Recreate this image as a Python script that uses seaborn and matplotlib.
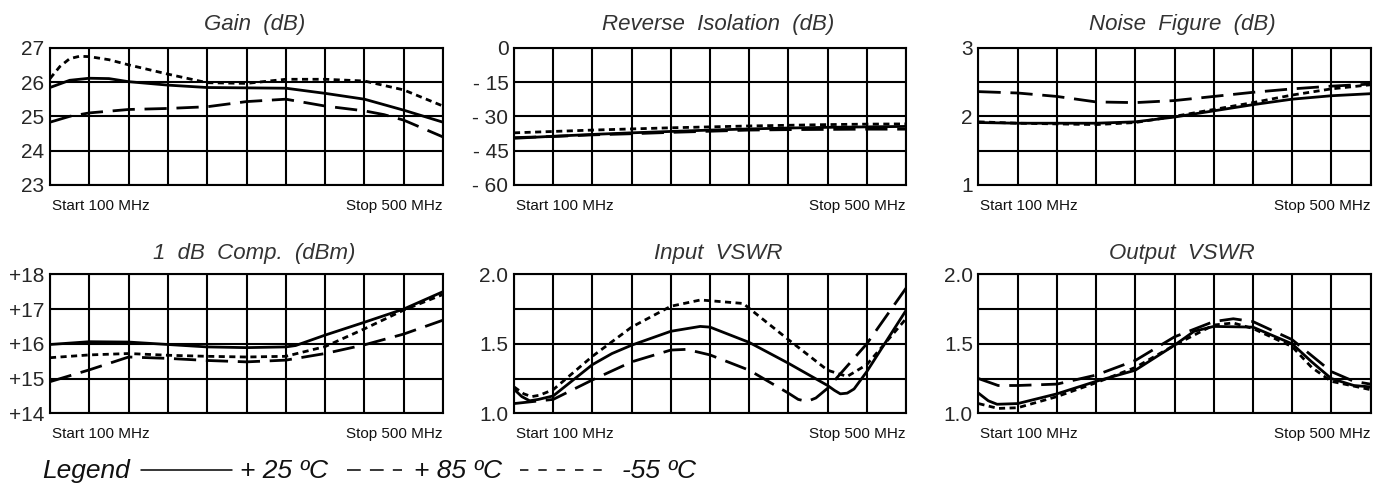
import numpy as np
import pandas as pd
import matplotlib
matplotlib.use("Agg")
import matplotlib.pyplot as plt
from matplotlib.lines import Line2D
import seaborn as sns

sns.set_style("white")
plt.rcParams['font.family'] = ['Liberation Sans', 'DejaVu Sans']

temps = ['+25', '+85', '-55']
legend_labels = ['+ 25 ºC', '+ 85 ºC', '-55 ºC']

# ---------------- Gain (dB) ----------------
gain_f_25 = [100, 120, 140, 160, 180, 220, 260, 300, 340, 380, 420, 460, 500]
gain_v_25 = [25.84, 26.05, 26.11, 26.1, 26.01, 25.91, 25.84, 25.83, 25.82, 25.67, 25.5, 25.18, 24.83]
gain_f_85 = [100, 120, 140, 180, 220, 260, 300, 340, 380, 420, 440, 460, 500]
gain_v_85 = [24.83, 25.0, 25.1, 25.2, 25.23, 25.28, 25.43, 25.5, 25.3, 25.16, 25.05, 24.89, 24.4]
gain_f_55 = [100, 110, 120, 130, 140, 160, 180, 220, 260, 300, 340, 380, 420, 460, 500]
gain_v_55 = [26.1, 26.45, 26.68, 26.75, 26.74, 26.65, 26.5, 26.23, 25.98, 25.96, 26.08, 26.08, 26.03, 25.77, 25.3]

# ---------------- Reverse Isolation (dB) ----------------
iso_f = [100, 140, 180, 220, 260, 300, 340, 380, 420, 460, 500]
iso_v_25 = [-39.6, -38.7, -37.9, -37.2, -36.6, -36.0, -35.5, -35.1, -34.8, -34.6, -34.4]
iso_v_85 = [-39.3, -38.8, -38.1, -37.6, -37.0, -36.5, -36.0, -35.8, -35.7, -35.6, -35.6]
iso_v_55 = [-37.2, -36.6, -36.0, -35.5, -35.0, -34.6, -34.2, -33.9, -33.6, -33.4, -33.3]

# ---------------- Noise Figure (dB) ----------------
nf_f = [100, 140, 180, 220, 260, 300, 340, 380, 420, 460, 500]
nf_v_25 = [1.91, 1.9, 1.9, 1.9, 1.92, 1.99, 2.08, 2.17, 2.25, 2.3, 2.33]
nf_v_85 = [2.36, 2.34, 2.29, 2.21, 2.2, 2.23, 2.29, 2.35, 2.4, 2.44, 2.47]
nf_v_55 = [1.92, 1.9, 1.89, 1.88, 1.91, 2.0, 2.1, 2.2, 2.31, 2.4, 2.46]

# ---------------- 1 dB Comp. (dBm) ----------------
p1_f_25 = [100, 140, 180, 220, 260, 300, 340, 350, 380, 420, 460, 500]
p1_v_25 = [15.98, 16.06, 16.05, 15.98, 15.91, 15.89, 15.91, 15.95, 16.25, 16.62, 17.0, 17.5]
p1_f_85 = [100, 140, 180, 220, 260, 300, 340, 380, 420, 460, 500]
p1_v_85 = [14.91, 15.25, 15.62, 15.58, 15.52, 15.48, 15.53, 15.72, 15.97, 16.28, 16.68]
p1_f_55 = [100, 140, 180, 220, 260, 300, 340, 380, 420, 460, 500]
p1_v_55 = [15.6, 15.68, 15.72, 15.67, 15.64, 15.62, 15.64, 15.92, 16.43, 16.97, 17.42]

# ---------------- Input VSWR ----------------
in_f_25 = [100, 108, 116, 125, 140, 180, 200, 220, 260, 290, 300, 340, 380, 420, 427, 433, 440, 447, 460, 500]
in_v_25 = [1.173, 1.12, 1.09, 1.1, 1.125, 1.35, 1.43, 1.49, 1.59, 1.625, 1.62, 1.51, 1.36, 1.2, 1.165, 1.14, 1.145, 1.175, 1.3, 1.74]
in_f_85 = [100, 140, 180, 220, 260, 276, 300, 340, 380, 390, 399, 408, 420, 460, 500]
in_v_85 = [1.07, 1.1, 1.24, 1.37, 1.455, 1.46, 1.42, 1.31, 1.145, 1.1, 1.085, 1.11, 1.18, 1.5, 1.9]
in_f_55 = [100, 110, 118, 126, 140, 180, 220, 260, 290, 300, 334, 340, 380, 420, 440, 460, 500]
in_v_55 = [1.19, 1.14, 1.12, 1.13, 1.17, 1.41, 1.62, 1.77, 1.815, 1.81, 1.79, 1.755, 1.53, 1.31, 1.265, 1.35, 1.68]

# ---------------- Output VSWR ----------------
out_f_25 = [100, 110, 119, 140, 180, 220, 260, 300, 320, 340, 380, 420, 440, 460, 483, 500]
out_v_25 = [1.145, 1.09, 1.065, 1.07, 1.14, 1.23, 1.31, 1.49, 1.59, 1.625, 1.62, 1.5, 1.37, 1.25, 1.2, 1.19]
out_f_85 = [100, 120, 140, 180, 220, 260, 300, 340, 360, 380, 420, 460, 483, 500]
out_v_85 = [1.25, 1.2, 1.2, 1.21, 1.275, 1.38, 1.55, 1.66, 1.68, 1.66, 1.53, 1.3, 1.23, 1.21]
out_f_55 = [100, 120, 140, 180, 220, 260, 300, 340, 360, 380, 420, 440, 460, 500]
out_v_55 = [1.07, 1.035, 1.04, 1.12, 1.22, 1.33, 1.49, 1.635, 1.65, 1.61, 1.48, 1.33, 1.23, 1.17]

titles = ['Gain  (dB)', 'Reverse  Isolation  (dB)', 'Noise  Figure  (dB)',
          '1  dB  Comp.  (dBm)', 'Input  VSWR', 'Output  VSWR']
ylims = [(23, 27), (-60, 0), (1, 3), (14, 18), (1, 2), (1, 2)]
yticks = [[23, 24, 25, 26, 27], [-60, -45, -30, -15, 0], [1, 1.5, 2, 2.5, 3],
          [14, 15, 16, 17, 18], [1, 1.25, 1.5, 1.75, 2], [1, 1.25, 1.5, 1.75, 2]]
ytick_labels = [['23', '24', '25', '26', '27'],
                ['- 60', '- 45', '- 30', '- 15', '0'],
                ['1', '', '2', '', '3'],
                ['+14', '+15', '+16', '+17', '+18'],
                ['1.0', '', '1.5', '', '2.0'],
                ['1.0', '', '1.5', '', '2.0']]
xticks = [100, 140, 180, 220, 260, 300, 340, 380, 420, 460, 500]
start_label = 'Start 100 MHz'
stop_label = 'Stop 500 MHz'

series = [
    [(gain_f_25, gain_v_25), (gain_f_85, gain_v_85), (gain_f_55, gain_v_55)],
    [(iso_f, iso_v_25), (iso_f, iso_v_85), (iso_f, iso_v_55)],
    [(nf_f, nf_v_25), (nf_f, nf_v_85), (nf_f, nf_v_55)],
    [(p1_f_25, p1_v_25), (p1_f_85, p1_v_85), (p1_f_55, p1_v_55)],
    [(in_f_25, in_v_25), (in_f_85, in_v_85), (in_f_55, in_v_55)],
    [(out_f_25, out_v_25), (out_f_85, out_v_85), (out_f_55, out_v_55)],
]

dash_map = {'+25': '', '+85': (8, 3.5), '-55': (2.2, 1.6)}

W, H = 1386, 483
fig = plt.figure(figsize=(W / 100, H / 100), dpi=100)

lefts = [50, 514, 978.5]
widths = [393, 392, 392]
tops = [47.7, 274.3]
bottoms = [185, 413.3]

for i in range(6):
    r, c = divmod(i, 3)
    rect = [lefts[c] / W, (H - bottoms[r]) / H, widths[c] / W, (bottoms[r] - tops[r]) / H]
    ax = fig.add_axes(rect)
    frames = []
    for t, (f, v) in zip(temps, series[i]):
        frames.append(pd.DataFrame({'freq': f, 'value': v, 'temp': t}))
    df = pd.concat(frames, ignore_index=True)
    sns.lineplot(data=df, x='freq', y='value', style='temp', style_order=temps,
                 dashes=dash_map, color='black', linewidth=2.0, estimator=None,
                 legend=False, ax=ax, zorder=3)
    ax.set_xlim(100, 500)
    ax.set_ylim(*ylims[i])
    ax.set_xticks(xticks)
    ax.set_xticklabels([])
    ax.set_yticks(yticks[i])
    ax.set_yticklabels(ytick_labels[i], fontsize=15)
    ax.tick_params(axis='both', length=0, pad=4)
    ax.grid(True, color='black', linewidth=1.5)
    ax.set_axisbelow(True)
    for s in ax.spines.values():
        s.set_visible(True)
        s.set_color('black')
        s.set_linewidth(1.5)
    ax.set_xlabel('')
    ax.set_ylabel('')
    ax.set_title(titles[i], fontsize=16, style='italic', color='#333333',
                 x=0.52, pad=13 if r == 0 else 11)
    ax.text(0.005, -0.15, start_label, transform=ax.transAxes, fontsize=11,
            ha='left', va='center', color='#111111')
    ax.text(1.0, -0.15, stop_label, transform=ax.transAxes, fontsize=11,
            ha='right', va='center', color='#111111')

# Legend row
ly_text = (H - 478) / H
ly_line = (H - 469.5) / H
lfs = 19
fig.text(42 / W, ly_text, 'Legend', fontsize=lfs, style='italic', va='baseline', ha='left',
         color='#111111')
fig.add_artist(Line2D([141 / W, 232 / W], [ly_line, ly_line], color='black', linewidth=1.1))
fig.text(240 / W, ly_text, legend_labels[0], fontsize=lfs, style='italic', va='baseline',
         ha='left', color='#111111')
fig.add_artist(Line2D([347 / W, 402 / W], [ly_line, ly_line], color='black', linewidth=1.1,
                      dashes=(9, 6)))
fig.text(414 / W, ly_text, legend_labels[1], fontsize=lfs, style='italic', va='baseline',
         ha='left', color='#111111')
fig.add_artist(Line2D([520 / W, 610 / W], [ly_line, ly_line], color='black', linewidth=1.1,
                      dashes=(5.5, 6.5)))
fig.text(622 / W, ly_text, legend_labels[2], fontsize=lfs, style='italic', va='baseline',
         ha='left', color='#111111')

fig.savefig('out.png', dpi=100)
